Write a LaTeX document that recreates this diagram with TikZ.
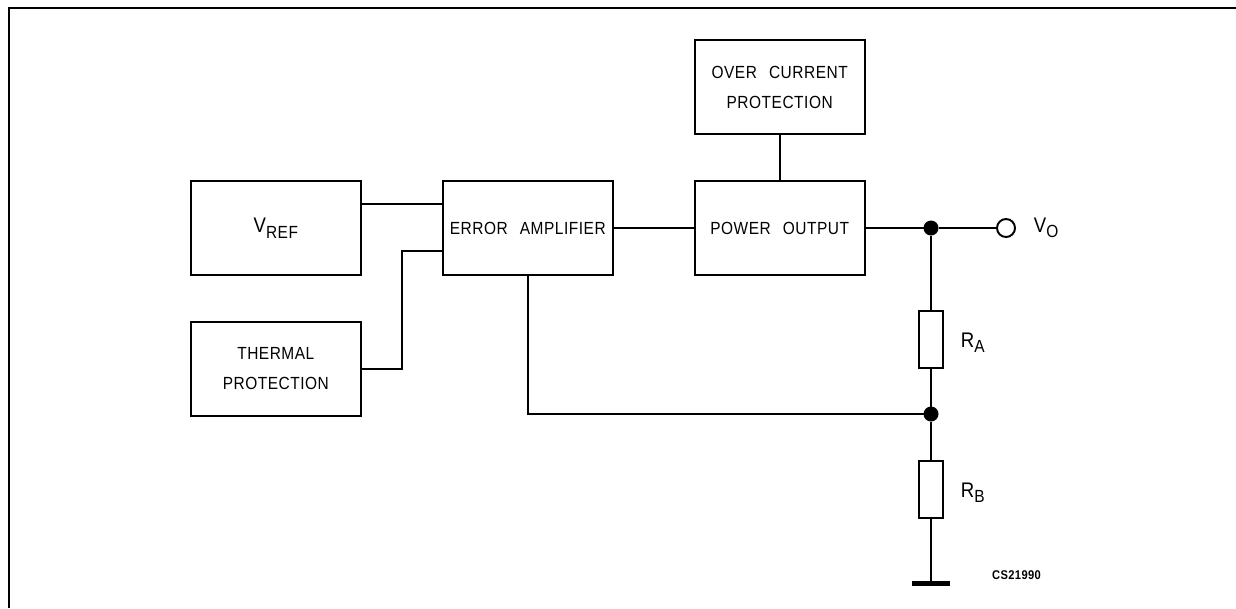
\documentclass[tikz,border=0pt]{standalone}
\usepackage{fontspec}
\setsansfont[LetterSpace=3,WordSpace=2.5,FakeStretch=.88]{Liberation Sans}
\usepackage{tikz}
\usetikzlibrary{arrows.meta}
\newcommand{\sublabel}[2]{{\fontsize{6}{7}\selectfont #1}\raisebox{-0.32em}{#2}}

\begin{document}
\begin{tikzpicture}[auto, line width=0.55pt]
    \tikzstyle{block} = [draw, rectangle, align=center, minimum width=1.7cm, minimum height=.94cm, inner sep=0pt, font=\sffamily\fontsize{5}{8.5}\selectfont];
    \tikzstyle{res} = [draw, rectangle, minimum width=.24cm, minimum height=.57cm, inner sep=0pt];
    \tikzstyle{line} = [draw];
    \tikzstyle{dot} = [circle, fill=black, minimum size=.15cm, inner sep=0pt, outer sep=0pt];
    \tikzstyle{lab} = [inner sep=0pt, font=\sffamily\fontsize{5}{6}\selectfont];
    \useasboundingbox (0,0) rectangle (12.36,-6.08);
    \draw[line width=.65pt] (.09,-6.08) -- (.09,-.08) -- (12.36,-.08);
    \matrix at (5.2775,-2.28) [column sep=8mm, row sep=4.5mm]
    {
        & & \node[block] (over) {OVER CURRENT\\PROTECTION}; \\
        \node[block] (vref) {\sublabel{V}{REF}}; & 
            \node[block] (error) {ERROR AMPLIFIER}; & 
                \node[block] (power) {POWER OUTPUT}; \\
        \node[block] (thermal) {THERMAL\\PROTECTION}; & & \\
    };
    \node[dot] (outdot) at (9.31,-2.28) {};
    \node[dot] (fbdot) at (9.31,-4.14) {};
    \node[draw, circle, minimum size=.18cm, inner sep=0pt] (vout) at (10.06,-2.28) {};
    \node[res] (ra) at (9.31,-3.395) {};
    \node[res] (rb) at (9.31,-4.895) {};
    \node[rectangle, fill=black, minimum width=.38cm, minimum height=.05cm, inner sep=0pt, outer sep=0pt] (gnd) at (9.31,-5.83) {};
    \node[lab, anchor=base west] (vo) at (10.33,-2.32) {\sublabel{V}{O}};
    \node[lab, anchor=base west] (ralabel) at (9.6,-3.47) {\sublabel{R}{A}};
    \node[lab, anchor=base west] (rblabel) at (9.6,-4.97) {\sublabel{R}{B}};
    \node[inner sep=0pt, font=\sffamily\bfseries\fontsize{3.6}{4}\selectfont] (code) at (10.165,-5.755) {CS21990};
    \coordinate (tjoin) at (4.02,-2.51);
    \coordinate (fbtap) at (5.28,-2.75);
    \tikzstyle{every path}=[line]
    \path ([yshift=.24cm]vref.east) -- ([yshift=.24cm]error.west);
    \path (thermal.east) -| (tjoin) -- (tjoin -| error.west);
    \path (error) -- (power);
    \path (over) -- (power);
    \path (power) -- (outdot);
    \path (outdot) -- (vout);
    \path (outdot) -- (ra);
    \path (ra) -- (fbdot);
    \path (fbdot) -- (rb);
    \path (rb) -- (gnd);
    \path (fbtap) |- (fbdot);
\end{tikzpicture}
\end{document}
